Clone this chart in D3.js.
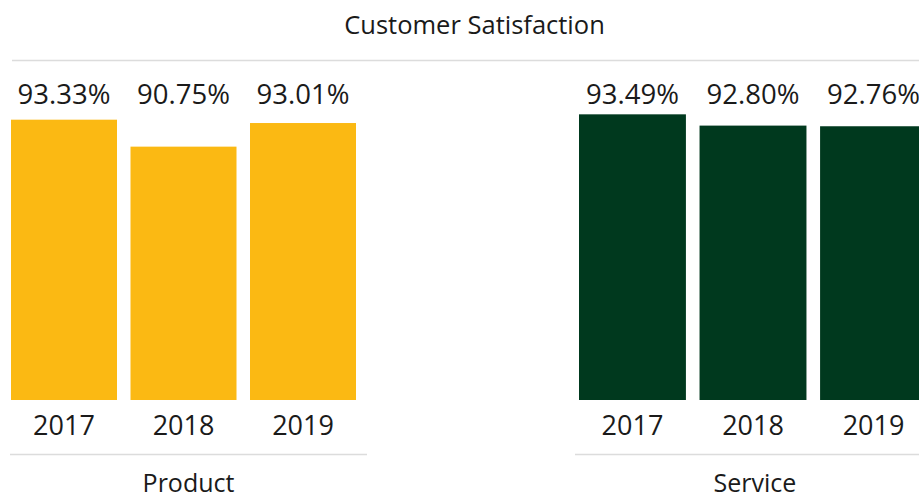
<!DOCTYPE html>
<html>
<head>
<meta charset="utf-8">
<script src="https://cdn.jsdelivr.net/npm/d3@7"></script>
<style>
  html, body { margin: 0; padding: 0; background: #fff; }
  svg { display: block; font-family: "Open Sans", sans-serif; }
</style>
</head>
<body>
<svg id="chart" width="919" height="500"></svg>
<script>
const title = "Customer Satisfaction";
const years = ["2017", "2018", "2019"];
const productValues = [93.33, 90.75, 93.01];
const serviceValues = [93.49, 92.80, 92.76];
const panelNames = ["Product", "Service"];
const panelColors = ["#FBB913", "#00391E"];

const svg = d3.select("#chart");
const textColor = "#1a1a1a";
const ruleColor = "#dcdcdc";

// Title and top rule
svg.append("text")
  .attr("x", 474.5).attr("y", 34)
  .attr("text-anchor", "middle")
  .attr("font-size", 25.5)
  .attr("fill", textColor)
  .text(title);
svg.append("line")
  .attr("x1", 12).attr("x2", 937)
  .attr("y1", 60.5).attr("y2", 60.5)
  .attr("stroke", ruleColor).attr("stroke-width", 1.5);

const panels = [
  { name: panelNames[0], values: productValues, color: panelColors[0],
    xRange: [11, 356], lineX: [10, 367], yDomain: [66.5, 100], yRange: [400, 50] },
  { name: panelNames[1], values: serviceValues, color: panelColors[1],
    xRange: [579, 927], lineX: [575, 935], yDomain: [76, 100], yRange: [400, 8] }
];

const fmt = v => d3.format(".2f")(v) + "%";

panels.forEach(p => {
  const x = d3.scaleBand().domain(years).range(p.xRange).paddingInner(0.113).paddingOuter(0);
  const y = d3.scaleLinear().domain(p.yDomain).range(p.yRange);
  const g = svg.append("g");
  const data = years.map((yr, i) => ({ yr, v: p.values[i] }));

  g.selectAll("rect").data(data).join("rect")
    .attr("x", d => x(d.yr))
    .attr("width", x.bandwidth())
    .attr("y", d => y(d.v))
    .attr("height", d => y(p.yDomain[0]) - y(d.v))
    .attr("fill", p.color);

  g.selectAll("text.val").data(data).join("text")
    .attr("class", "val")
    .attr("x", d => x(d.yr) + x.bandwidth() / 2)
    .attr("y", 104)
    .attr("text-anchor", "middle")
    .attr("font-size", 27.5)
    .attr("fill", textColor)
    .text(d => fmt(d.v));

  // category axis
  const axis = d3.axisBottom(x).tickSize(0).tickPadding(0);
  const ag = g.append("g").attr("transform", "translate(0,400)").call(axis);
  ag.select(".domain").remove();
  ag.selectAll("text")
    .attr("y", 35).attr("dy", 0)
    .attr("font-size", 27)
    .attr("font-family", "Open Sans, sans-serif")
    .attr("fill", textColor);

  g.append("line")
    .attr("x1", p.lineX[0]).attr("x2", p.lineX[1])
    .attr("y1", 454.5).attr("y2", 454.5)
    .attr("stroke", ruleColor).attr("stroke-width", 1.5);

  g.append("text")
    .attr("x", (p.lineX[0] + p.lineX[1]) / 2)
    .attr("y", 492)
    .attr("text-anchor", "middle")
    .attr("font-size", 25)
    .attr("fill", textColor)
    .text(p.name);
});
</script>
</body>
</html>
